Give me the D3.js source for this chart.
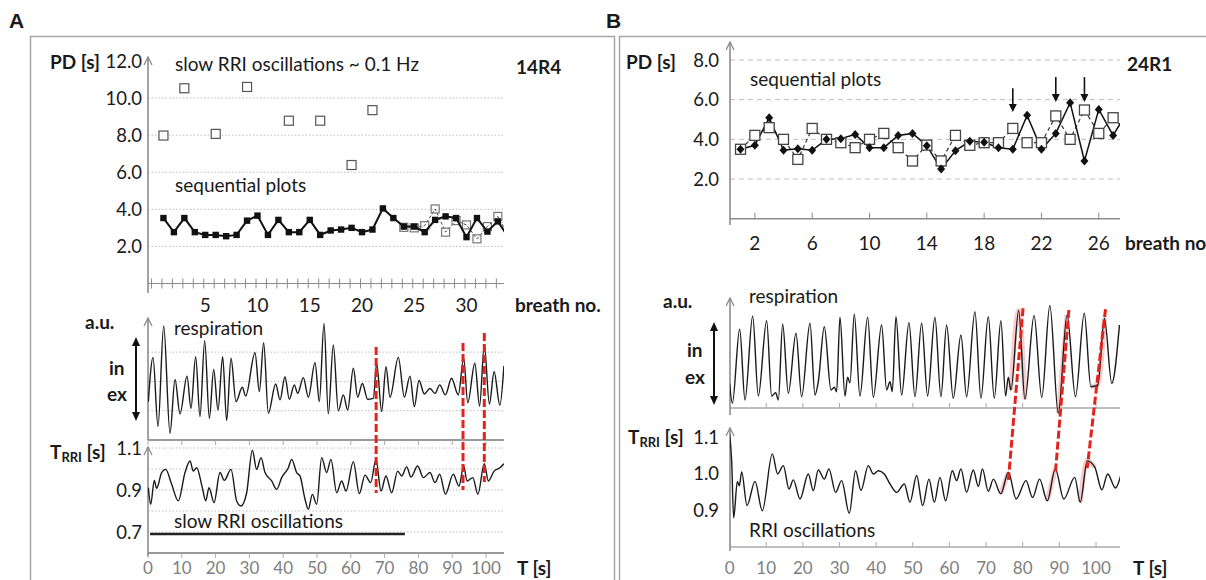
<!DOCTYPE html>
<html>
<head>
<meta charset="utf-8">
<script src="https://cdn.jsdelivr.net/npm/d3@7"></script>
<style>
  body { margin: 0; background: #fff; }
  svg text { font-family: Lato, "Open Sans", sans-serif; fill: #1a1a1a; }
  .lab { font-size: 19px; }
  .bold { font-size: 19px; font-weight: bold; }
  .num { font-size: 18.5px; }
  .tnum { font-size: 17px; fill: #808080 !important; }
  .panel { font-family: "Liberation Sans", Arial, sans-serif !important; font-size: 21px; font-weight: bold; }
</style>
</head>
<body>
<svg id="fig" width="1206" height="580"></svg>
<script>
// ---------- panel A : 14R4 ----------
const pdTicksA = [2, 4, 6, 8, 10, 12];
const breathLabelsA = [5, 10, 15, 20, 25, 30];
// sequential plot, breath 1..34 (last one runs past the axis end)
const pdSolidA = [3.53, 2.77, 3.53, 2.77, 2.62, 2.62, 2.55, 2.62, 3.39, 3.66, 2.62, 3.43, 2.77, 2.77, 3.43, 2.62,
  2.86, 2.91, 3.0, 2.77, 2.91, 4.05, 3.53, 3.07, 3.07, 2.77, 3.43, 3.62, 3.53, 2.5, 3.53, 2.8, 3.35, 2.5];
const pdDashStartA = 24;
const pdDashA = [3.03, 3.0, 3.12, 4.02, 2.77, 3.39, 3.16, 2.41, 3.07, 3.62, 2.6];
// slow RRI oscillations ~0.1 Hz
const slowBreathA = [1, 3, 6, 9, 13, 16, 19, 21];
const slowPdA = [7.98, 10.53, 8.07, 10.6, 8.78, 8.78, 6.39, 9.35];

const timeTicks = [0, 10, 20, 30, 40, 50, 60, 70, 80, 90, 100];
const rriTicksA = [0.7, 0.9, 1.1];
const rriGridA = [0.7, 0.8, 0.9, 1.0, 1.1];
const respGridA = [1, 2, 3];

// respiration (a.u.) : [time s, value]
const respA = [[0.1,1.31],[1.48,2.82],[2.96,0.46],[4.64,3.89],[6.51,0.23],[7.99,2.07],[9.47,0.89],[11.54,2.18],
  [12.72,1.08],[14.1,2.84],[15.38,0.8],[16.77,3.39],[18.15,0.74],[19.43,2.41],[20.71,1.02],[22.09,2.84],[23.27,0.66],
  [24.56,2.79],[26.04,1.31],[27.9,1.8],[28.9,1.5],[31.66,2.98],[32.94,1.65],[34.22,3.32],[35.6,0.91],[37.77,1.91],
  [39.05,1.37],[40.53,2.16],[41.81,1.39],[43.29,1.88],[44.28,1.59],[45.96,2.13],[47.44,1.46],[49.41,2.64],[50.69,1.31],
  [52.07,3.98],[53.35,0.89],[54.83,3.24],[56.31,1.0],[57.79,1.54],[59.07,1.02],[60.75,2.45],[62.03,1.46],[63.41,1.93],
  [64.99,1.39],[66.67,1.42],[67.65,2.62],[69.13,0.97],[70.41,2.5],[71.6,1.46],[74.06,2.82],[75.84,1.46],[77.51,2.18],
  [78.8,1.14],[80.18,2.03],[81.76,1.57],[83.43,1.76],[84.9,1.59],[86.3,1.88],[88.0,1.54],[89.8,2.11],[91.8,1.54],
  [93.4,2.79],[94.6,1.27],[96.7,2.62],[98.1,1.16],[99.5,3.24],[101.0,1.23],[102.4,2.33],[104.1,1.19],[105.3,2.53]];
// RR interval (s)
const rriA = [[0.1,0.911],[0.79,0.832],[1.87,0.946],[2.56,0.908],[4.04,0.983],[5.23,0.998],[7.0,0.927],[8.97,0.848],
  [10.95,0.983],[12.43,1.038],[13.41,0.99],[14.4,1.006],[16.07,0.911],[17.06,0.848],[18.05,0.911],[19.53,0.84],
  [21.3,0.983],[22.58,0.946],[24.56,0.998],[26.23,0.848],[27.51,0.824],[29.19,0.887],[30.87,1.089],[32.15,0.998],
  [33.43,1.054],[34.62,0.983],[36.59,0.943],[38.07,0.903],[39.55,0.959],[41.52,1.006],[42.5,1.046],[43.98,0.983],
  [44.97,0.967],[46.45,0.856],[47.44,0.808],[48.62,0.879],[49.9,0.832],[51.38,1.054],[52.86,0.983],[54.14,1.046],
  [55.82,0.887],[57.3,0.943],[58.58,0.895],[60.75,1.035],[62.52,0.883],[64.2,0.971],[65.88,0.935],[67.46,1.046],
  [68.93,0.895],[70.41,0.967],[72.09,0.887],[73.87,0.99],[75.05,0.967],[76.53,1.01],[77.81,0.962],[79.78,1.014],
  [81.46,0.959],[83.43,0.983],[84.91,0.935],[86.3,0.975],[88.0,0.88],[90.3,0.975],[92.0,0.919],[93.4,1.014],
  [94.4,0.943],[96.1,0.959],[97.6,0.88],[99.5,1.025],[100.7,0.943],[102.4,0.99],[104.1,1.006],[105.3,1.025]];
const slowBarA = [0.6, 76];
// red markers: time, top (respiration a.u.), bottom (RRI s)
const redA = [[67.5, 3.17, 0.886], [93.2, 3.31, 0.9], [99.5, 3.65, 0.938]];

// ---------- panel B : 24R1 ----------
const pdTicksB = [2, 4, 6, 8];
const breathLabelsB = [2, 6, 10, 14, 18, 22, 26];
const pdSolidB = [3.5, 3.7, 5.09, 3.45, 3.53, 3.45, 4.0, 4.03, 4.25, 3.58, 3.58, 4.2, 4.3, 3.68, 2.5, 3.43, 3.9,
  3.85, 3.58, 3.5, 5.21, 3.5, 4.3, 5.85, 2.91, 5.51, 4.2, 5.4];
const pdDashB = [3.5, 4.2, 4.59, 4.0, 2.99, 4.55, 4.0, 3.83, 3.58, 4.0, 4.3, 3.58, 2.91, 3.71, 2.91, 4.2, 3.7,
  3.83, 3.83, 4.55, 3.83, 3.83, 5.18, 4.0, 5.48, 4.3, 5.09, 4.36];
// arrows: breath, start value, tip value
const arrowsB = [[20, 6.58, 5.38], [23, 7.14, 5.88], [25, 7.14, 5.88]];
const rriTicksB = [0.9, 1.0, 1.1];

const respB = [[0,0.99],[0.75,0.19],[2.75,3.15],[4.2,0.32],[6.29,3.68],[7.84,0.48],[10.11,3.49],[11.48,0.48],
  [12.57,0.61],[13.3,0.32],[14.48,3.36],[16.03,0.59],[18.12,2.99],[19.66,0.45],[21.94,3.39],[23.3,0.52],[24.21,1.05],
  [25.85,3.25],[27.67,0.72],[28.58,0.83],[29.21,0.65],[30.12,3.63],[31.49,0.48],[32.21,1.23],[32.85,1.01],[34.03,3.75],
  [35.58,0.48],[37.67,3.63],[39.22,0.43],[41.49,3.32],[42.86,0.72],[43.77,1.05],[44.4,0.65],[45.4,3.65],[46.95,0.52],
  [48.95,3.41],[50.59,0.45],[52.41,3.39],[54.04,0.48],[56.04,3.63],[57.68,0.45],[59.23,3.32],[61.04,0.39],[63.14,2.92],
  [64.68,0.45],[66.96,3.85],[68.6,0.39],[70.6,3.65],[72.23,0.39],[74.05,3.49],[75.33,0.48],[76.05,1.23],[76.78,0.72],
  [78.9,3.9],[80.6,0.35],[83.1,3.7],[85.2,0.42],[87.4,4.1],[89.7,-0.21],[92.1,3.72],[94.4,0.45],[96.8,3.79],
  [98.6,0.85],[100.5,0.92],[102.3,3.59],[104.3,0.99],[106.4,3.32]];
const rriB = [[0,1.108],[0.56,1.035],[1.11,0.879],[2.11,0.979],[2.65,0.967],[3.29,1.005],[4.75,0.913],[6.93,0.979],
  [8.93,0.899],[11.66,1.054],[13.1,0.999],[14.67,1.022],[16.21,0.958],[17.39,0.983],[19.21,0.931],[21.48,0.999],
  [22.84,0.954],[24.2,1.01],[25.84,0.985],[27.11,1.013],[28.93,0.949],[30.57,0.981],[32.66,0.892],[34.39,1.008],
  [35.85,0.954],[37.85,1.022],[39.22,0.999],[40.59,1.008],[42.22,0.999],[43.77,0.972],[45.59,0.949],[47.68,0.972],
  [49.23,0.922],[51.05,0.995],[52.69,0.913],[54.41,0.985],[55.87,0.922],[57.41,0.99],[58.96,0.926],[60.78,1.008],
  [61.96,0.981],[63.14,1.013],[64.68,0.949],[66.5,1.01],[67.9,0.965],[69.0,1.013],[70.6,0.952],[72.0,0.985],
  [74.0,0.945],[76.1,1.004],[78.2,0.931],[80.9,0.981],[82.7,0.935],[84.6,0.985],[86.7,0.926],[88.9,1.013],
  [91.2,0.931],[94.2,0.99],[95.7,0.922],[97.6,1.035],[99.7,1.017],[101.6,0.956],[103.2,0.999],[105.3,0.961],[107.1,1.008]];
// red markers: [time top, resp a.u.], [time bottom, RRI s]
const redB = [[80.1, 3.99, 76.1, 0.983], [92.6, 3.92, 88.9, 1.0], [102.6, 3.95, 97.6, 1.015]];
// shaded pieces of the traces around the linked peaks (time windows)
const hiRespB = [[76.5, 81], [89, 93.5], [98, 103.5]];
const hiRriB = [[72.5, 78], [86.5, 91], [95.5, 101]];

const svg = d3.select("#fig");
const gray = "#8c8c8c";
const red = "#e3231c";

function yArrowAxis(x, yBot, yTop) {
  svg.append("line").attr("x1", x).attr("x2", x).attr("y1", yBot).attr("y2", yTop)
    .attr("stroke", gray).attr("stroke-width", 1.6);
  svg.append("path").attr("d", `M${x - 4},${yTop + 8}L${x},${yTop}L${x + 4},${yTop + 8}`)
    .attr("fill", "none").attr("stroke", gray).attr("stroke-width", 1.3);
}
function grid(xs, ys, scale, vals, dash) {
  svg.append("g").selectAll("line").data(vals).enter().append("line")
    .attr("x1", xs[0]).attr("x2", xs[1]).attr("y1", d => scale(d)).attr("y2", d => scale(d))
    .attr("stroke", "#bdbdbd").attr("stroke-width", 1).attr("stroke-dasharray", dash);
}
function text(x, y, s, cls, anchor) {
  return svg.append("text").attr("x", x).attr("y", y).attr("class", cls)
    .attr("text-anchor", anchor || "start").text(s);
}
function doubleArrow(x, y1, y2) {
  svg.append("line").attr("x1", x).attr("x2", x).attr("y1", y1 + 6).attr("y2", y2 - 6)
    .attr("stroke", "#111").attr("stroke-width", 2);
  svg.append("path").attr("d", `M${x - 4},${y1 + 9}L${x},${y1}L${x + 4},${y1 + 9}Z`).attr("fill", "#111");
  svg.append("path").attr("d", `M${x - 4},${y2 - 9}L${x},${y2}L${x + 4},${y2 - 9}Z`).attr("fill", "#111");
}
function trriLabel(x, y) {
  const t = svg.append("text").attr("x", x).attr("y", y).attr("class", "bold");
  t.append("tspan").text("T");
  t.append("tspan").attr("font-size", 13).attr("dy", 3).text("RRI");
  t.append("tspan").attr("dy", -3).text(" [s]");
}
function clip(id, x0, x1) {
  svg.append("clipPath").attr("id", id).append("rect")
    .attr("x", x0).attr("y", 0).attr("width", x1 - x0).attr("height", 580);
}

// frames and panel letters
svg.append("rect").attr("x", 30.5).attr("y", 36.5).attr("width", 584).attr("height", 570)
  .attr("fill", "none").attr("stroke", "#a6a6a6").attr("stroke-width", 1.5);
svg.append("rect").attr("x", 619.5).attr("y", 36.5).attr("width", 620).attr("height", 570)
  .attr("fill", "none").attr("stroke", "#a6a6a6").attr("stroke-width", 1.5);
text(9, 28, "A", "panel");
text(606, 28, "B", "panel");

// ================= PANEL A =================
const axA = [148, 504];
clip("clipA", axA[0], axA[1]);
const xbA = d3.scaleLinear().domain([0, 34]).range([153, 153 + 34 * 10.45]);
const ypA = d3.scaleLinear().domain([0, 12]).range([283.5, 61]);

grid(axA, null, ypA, pdTicksA.filter(d => d < 12), "1.5,2");
svg.append("line").attr("x1", axA[0]).attr("x2", axA[1]).attr("y1", ypA(0)).attr("y2", ypA(0))
  .attr("stroke", gray).attr("stroke-width", 1.2);
svg.append("g").selectAll("line").data(d3.range(0, 34)).enter().append("line")
  .attr("x1", d => xbA(d) - 1.5).attr("x2", d => xbA(d) - 1.5)
  .attr("y1", ypA(0) - 5).attr("y2", ypA(0) + 5).attr("stroke", gray).attr("stroke-width", 1);
yArrowAxis(axA[0], 293, 57);
svg.append("g").selectAll("text").data(pdTicksA).enter().append("text")
  .attr("class", "num").attr("text-anchor", "end").attr("x", 142)
  .attr("y", d => ypA(d) + 6.5).text(d => d.toFixed(1));
svg.append("g").selectAll("text").data(breathLabelsA).enter().append("text")
  .attr("class", "lab").attr("text-anchor", "middle").attr("x", d => xbA(d)).attr("y", 312).text(d => d);
text(50, 69, "PD [s]", "bold");
text(516, 74, "14R4", "bold");
text(515, 312, "breath no.", "bold");
text(175, 71, "slow RRI oscillations ~ 0.1 Hz", "lab");
text(175, 192, "sequential plots", "lab");

const gA = svg.append("g").attr("clip-path", "url(#clipA)");
const dashPtsA = pdDashA.map((v, i) => [pdDashStartA + i, v]);
gA.append("path").datum(dashPtsA)
  .attr("d", d3.line().x(d => xbA(d[0])).y(d => ypA(d[1])))
  .attr("fill", "none").attr("stroke", "#444").attr("stroke-width", 1).attr("stroke-dasharray", "3,2");
gA.selectAll(".dsq").data(dashPtsA.filter(d => d[0] <= 33)).enter().append("rect")
  .attr("x", d => xbA(d[0]) - 4).attr("y", d => ypA(d[1]) - 4).attr("width", 8).attr("height", 8)
  .attr("fill", "none").attr("stroke", "#777").attr("stroke-width", 1.2);
const solidPtsA = pdSolidA.map((v, i) => [i + 1, v]);
gA.append("path").datum(solidPtsA)
  .attr("d", d3.line().x(d => xbA(d[0])).y(d => ypA(d[1])))
  .attr("fill", "none").attr("stroke", "#111").attr("stroke-width", 2);
gA.selectAll(".ssq").data(solidPtsA.filter(d => d[0] <= 33)).enter().append("rect")
  .attr("x", d => xbA(d[0]) - 3.2).attr("y", d => ypA(d[1]) - 3.2).attr("width", 6.4).attr("height", 6.4)
  .attr("fill", "#111");
gA.selectAll(".osq").data(slowBreathA).enter().append("rect")
  .attr("x", d => xbA(d) - 4.5).attr("y", (d, i) => ypA(slowPdA[i]) - 4.5).attr("width", 9).attr("height", 9)
  .attr("fill", "#fff").attr("stroke", "#555").attr("stroke-width", 1.2);

// respiration A
const xtA = d3.scaleLinear().domain([0, 100]).range([148, 486]);
const yrA = d3.scaleLinear().domain([0, 4]).range([440, 322.8]);
grid(axA, null, yrA, respGridA, "1.5,2");
svg.append("line").attr("x1", axA[0]).attr("x2", axA[1]).attr("y1", 440).attr("y2", 440)
  .attr("stroke", "#999").attr("stroke-width", 2);
svg.append("g").selectAll("line").data(timeTicks).enter().append("line")
  .attr("x1", d => xtA(d)).attr("x2", d => xtA(d)).attr("y1", 440).attr("y2", 445)
  .attr("stroke", "#aaa").attr("stroke-width", 1);
yArrowAxis(axA[0], 440, 318);
text(85, 329, "a.u.", "bold");
text(174, 335, "respiration", "lab");
text(109, 375, "in", "bold");
text(107, 401, "ex", "bold");
doubleArrow(136, 337, 421);

const waveA = d3.line().curve(d3.curveMonotoneX);
svg.append("g").attr("clip-path", "url(#clipA)").append("path").datum(respA)
  .attr("d", waveA.x(d => xtA(d[0])).y(d => yrA(d[1])))
  .attr("fill", "none").attr("stroke", "#1a1a1a").attr("stroke-width", 1.4);

// RRI A
const yiA = d3.scaleLinear().domain([0.6, 1.1]).range([553, 448]);
grid(axA, null, yiA, rriGridA, "1.5,2");
svg.append("line").attr("x1", axA[0]).attr("x2", axA[1]).attr("y1", 553).attr("y2", 553)
  .attr("stroke", "#999").attr("stroke-width", 2);
svg.append("g").selectAll("line").data(timeTicks).enter().append("line")
  .attr("x1", d => xtA(d)).attr("x2", d => xtA(d)).attr("y1", 553).attr("y2", 558)
  .attr("stroke", "#aaa").attr("stroke-width", 1);
yArrowAxis(axA[0], 556, 447);
svg.append("g").selectAll("text").data(rriTicksA).enter().append("text")
  .attr("class", "num").attr("text-anchor", "end").attr("x", 142)
  .attr("y", d => yiA(d) + 6.5).text(d => d.toFixed(1));
trriLabel(50, 459);
svg.append("g").selectAll("text").data(timeTicks).enter().append("text")
  .attr("class", "tnum").attr("text-anchor", "middle").attr("x", d => xtA(d)).attr("y", 574).text(d => d);
text(517, 575, "T [s]", "bold");
text(174, 528, "slow RRI oscillations", "lab");
svg.append("line").attr("x1", xtA(slowBarA[0])).attr("x2", xtA(slowBarA[1]))
  .attr("y1", yiA(0.69)).attr("y2", yiA(0.69)).attr("stroke", "#222").attr("stroke-width", 2.5);
svg.append("g").attr("clip-path", "url(#clipA)").append("path").datum(rriA)
  .attr("d", d3.line().curve(d3.curveMonotoneX).x(d => xtA(d[0])).y(d => yiA(d[1])))
  .attr("fill", "none").attr("stroke", "#1a1a1a").attr("stroke-width", 1.4);

svg.append("g").selectAll("line").data(redA).enter().append("line")
  .attr("x1", d => xtA(d[0])).attr("x2", d => xtA(d[0]))
  .attr("y1", d => yrA(d[1])).attr("y2", d => yiA(d[2]))
  .attr("stroke", red).attr("stroke-width", 3).attr("stroke-dasharray", "8,3");

// ================= PANEL B =================
const axB = [730, 1120];
clip("clipB", axB[0], axB[1]);
const xbB = d3.scaleLinear().domain([0, 28]).range([726.2, 726.2 + 28 * 14.33]);
const ypB = d3.scaleLinear().domain([0, 8]).range([218.7, 60]);

grid(axB, null, ypB, pdTicksB, "5,4");
svg.append("line").attr("x1", axB[0]).attr("x2", axB[1]).attr("y1", ypB(0)).attr("y2", ypB(0))
  .attr("stroke", gray).attr("stroke-width", 1.6);
svg.append("g").selectAll("line").data(breathLabelsB).enter().append("line")
  .attr("x1", d => xbB(d)).attr("x2", d => xbB(d)).attr("y1", ypB(0) - 6).attr("y2", ypB(0))
  .attr("stroke", gray).attr("stroke-width", 1);
yArrowAxis(axB[0], 225, 42);
svg.append("g").selectAll("text").data(pdTicksB).enter().append("text")
  .attr("class", "num").attr("text-anchor", "end").attr("x", 719)
  .attr("y", d => ypB(d) + 6.5).text(d => d.toFixed(1));
svg.append("g").selectAll("text").data(breathLabelsB).enter().append("text")
  .attr("class", "lab").attr("text-anchor", "middle").attr("x", d => xbB(d)).attr("y", 250).text(d => d);
text(626, 69, "PD [s]", "bold");
text(1127, 71, "24R1", "bold");
text(1125, 250, "breath no.", "bold");
text(750, 86, "sequential plots", "lab");

const gB = svg.append("g").attr("clip-path", "url(#clipB)");
const dashPtsB = pdDashB.map((v, i) => [i + 1, v]);
const solidPtsB = pdSolidB.map((v, i) => [i + 1, v]);
gB.append("path").datum(dashPtsB)
  .attr("d", d3.line().x(d => xbB(d[0])).y(d => ypB(d[1])))
  .attr("fill", "none").attr("stroke", "#333").attr("stroke-width", 1.2).attr("stroke-dasharray", "4,3");
gB.append("path").datum(solidPtsB)
  .attr("d", d3.line().x(d => xbB(d[0])).y(d => ypB(d[1])))
  .attr("fill", "none").attr("stroke", "#111").attr("stroke-width", 1.5);
gB.selectAll(".bsq").data(dashPtsB.filter(d => d[0] <= 27)).enter().append("rect")
  .attr("x", d => xbB(d[0]) - 5).attr("y", d => ypB(d[1]) - 5).attr("width", 10).attr("height", 10)
  .attr("fill", "#fff").attr("stroke", "#444").attr("stroke-width", 1.3);
gB.selectAll(".bdm").data(solidPtsB.filter(d => d[0] <= 27)).enter().append("path")
  .attr("d", d => { const x = xbB(d[0]), y = ypB(d[1]); return `M${x},${y - 4.5}L${x + 4},${y}L${x},${y + 4.5}L${x - 4},${y}Z`; })
  .attr("fill", "#111");
arrowsB.forEach(a => {
  const x = xbB(a[0]), y0 = ypB(a[1]), y1 = ypB(a[2]);
  svg.append("line").attr("x1", x).attr("x2", x).attr("y1", y0).attr("y2", y1 - 6)
    .attr("stroke", "#111").attr("stroke-width", 1.6);
  svg.append("path").attr("d", `M${x - 4},${y1 - 8}L${x},${y1}L${x + 4},${y1 - 8}Z`).attr("fill", "#111");
});

// respiration B
const xtB = d3.scaleLinear().domain([0, 100]).range([729.6, 1096]);
const yrB = d3.scaleLinear().domain([0, 4]).range([408, 308]);
svg.append("line").attr("x1", axB[0]).attr("x2", axB[1]).attr("y1", 408).attr("y2", 408)
  .attr("stroke", "#aaa").attr("stroke-width", 1.6);
svg.append("g").selectAll("line").data(timeTicks.slice(1)).enter().append("line")
  .attr("x1", d => xtB(d)).attr("x2", d => xtB(d)).attr("y1", 403).attr("y2", 408)
  .attr("stroke", "#aaa").attr("stroke-width", 1);
yArrowAxis(axB[0], 415, 298);
text(663, 308, "a.u.", "bold");
text(749, 303, "respiration", "lab");
text(687, 357, "in", "bold");
text(685, 384, "ex", "bold");
doubleArrow(714, 322, 405);

const gRB = svg.append("g").attr("clip-path", "url(#clipB)");
const lineRB = d3.line().curve(d3.curveMonotoneX).x(d => xtB(d[0])).y(d => yrB(d[1]));
hiRespB.forEach(w => {
  gRB.append("path").datum(respB.filter(d => d[0] >= w[0] && d[0] <= w[1])).attr("d", lineRB)
    .attr("fill", "none").attr("stroke", "rgba(235,110,110,0.35)").attr("stroke-width", 5);
});
gRB.append("path").datum(respB).attr("d", lineRB)
  .attr("fill", "none").attr("stroke", "#1a1a1a").attr("stroke-width", 1.4);

// RRI B
const yiB = d3.scaleLinear().domain([0.8, 1.1]).range([547, 437]);
svg.append("line").attr("x1", axB[0]).attr("x2", axB[1]).attr("y1", 547).attr("y2", 547)
  .attr("stroke", "#aaa").attr("stroke-width", 1.6);
svg.append("g").selectAll("line").data(timeTicks.slice(1)).enter().append("line")
  .attr("x1", d => xtB(d)).attr("x2", d => xtB(d)).attr("y1", 542).attr("y2", 547)
  .attr("stroke", "#aaa").attr("stroke-width", 1);
yArrowAxis(axB[0], 551, 428);
svg.append("g").selectAll("text").data(rriTicksB).enter().append("text")
  .attr("class", "num").attr("text-anchor", "end").attr("x", 719)
  .attr("y", d => yiB(d) + 6.5).text(d => d.toFixed(1));
trriLabel(628, 444);
svg.append("g").selectAll("text").data(timeTicks).enter().append("text")
  .attr("class", "tnum").attr("text-anchor", "middle").attr("x", d => xtB(d)).attr("y", 574).text(d => d);
text(1133, 575, "T [s]", "bold");
text(749, 537, "RRI oscillations", "lab");

const gIB = svg.append("g").attr("clip-path", "url(#clipB)");
const lineIB = d3.line().curve(d3.curveMonotoneX).x(d => xtB(d[0])).y(d => yiB(d[1]));
hiRriB.forEach(w => {
  gIB.append("path").datum(rriB.filter(d => d[0] >= w[0] && d[0] <= w[1])).attr("d", lineIB)
    .attr("fill", "none").attr("stroke", "rgba(235,110,110,0.35)").attr("stroke-width", 5);
});
gIB.append("path").datum(rriB).attr("d", lineIB)
  .attr("fill", "none").attr("stroke", "#1a1a1a").attr("stroke-width", 1.4);

svg.append("g").selectAll("line").data(redB).enter().append("line")
  .attr("x1", d => xtB(d[0])).attr("y1", d => yrB(d[1]))
  .attr("x2", d => xtB(d[2])).attr("y2", d => yiB(d[3]))
  .attr("stroke", red).attr("stroke-width", 3).attr("stroke-dasharray", "8,3");
</script>
</body>
</html>
